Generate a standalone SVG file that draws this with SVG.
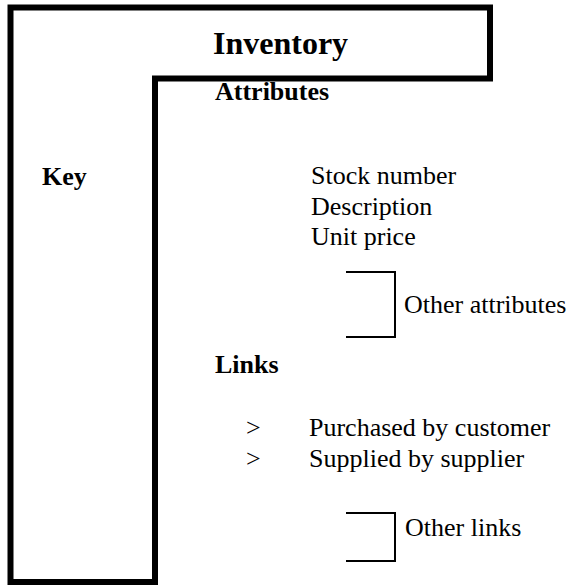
<svg xmlns="http://www.w3.org/2000/svg" width="574" height="585" viewBox="0 0 574 585">
<style>
.bold{font-family:"Liberation Serif","Times New Roman",serif;font-weight:bold;fill:#000}
.reg{font-family:"Liberation Serif","Times New Roman",serif;font-size:26px;fill:#000}
.br{fill:none;stroke:#000;stroke-width:2}
</style>
<rect width="574" height="585" fill="#fff"/>
<g id="entity">
<path d="M10.5,7.5 H490 V78.5 H155 V582 H10.5 Z" fill="#fff" stroke="#000" stroke-width="6" stroke-linejoin="miter"/>
<text class="bold" x="213" y="54" font-size="32">Inventory</text>
<text class="bold" x="42" y="185" font-size="26">Key</text>
<text class="bold" x="215" y="100" font-size="26">Attributes</text>
<text class="reg" x="311" y="184">Stock number</text>
<text class="reg" x="311" y="215">Description</text>
<text class="reg" x="311" y="245">Unit price</text>
<text class="reg" x="404" y="313">Other attributes</text>
<text class="bold" x="215" y="373" font-size="26">Links</text>
<text class="reg" x="246" y="436">&gt;</text>
<text class="reg" x="309" y="436">Purchased by customer</text>
<text class="reg" x="246" y="467">&gt;</text>
<text class="reg" x="309" y="467">Supplied by supplier</text>
<text class="reg" x="405" y="536">Other links</text>
</g>
<g id="connectors">
<path class="br" d="M346,272 H395 V337 H346"/>
<path class="br" d="M346,513 H395 V561 H346"/>
</g>
</svg>
